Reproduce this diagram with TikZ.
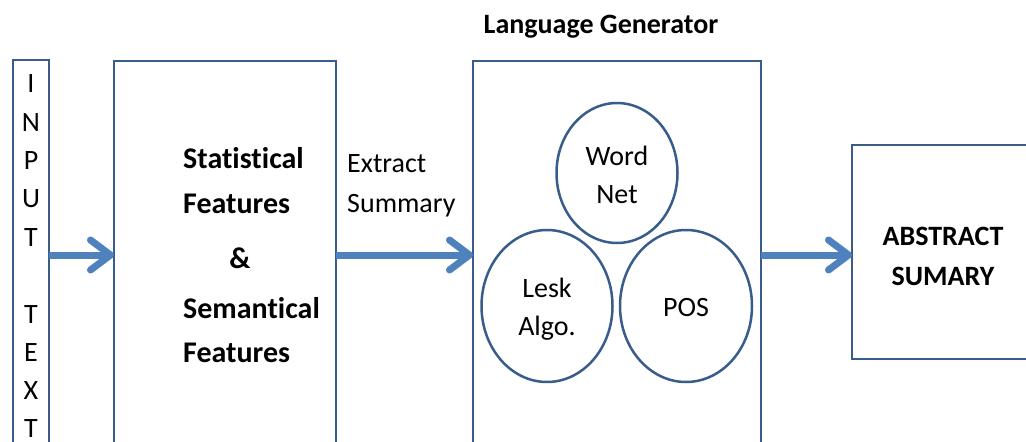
\documentclass[tikz,border=0pt]{standalone}
\usepackage{fontspec}
\setmainfont[Ligatures=NoCommon]{Carlito}
\usetikzlibrary{shapes.geometric,arrows.meta}
\definecolor{edge}{RGB}{56,93,138}
\definecolor{arrowblue}{RGB}{79,129,189}
\tikzset{
  box/.style={draw=edge, line width=2.8pt, rectangle, fill=none, inner sep=0pt, outer sep=0pt, anchor=north west},
  bubble/.style={draw=edge, line width=2.5pt, ellipse, inner sep=0pt, outer sep=0pt},
  flow/.style={draw=arrowblue, line width=7pt, -{Straight Barb[length=20pt,width=30pt,round]}},
  lbl/.style={anchor=base, inner sep=0pt, font=\fontsize{28}{34}\selectfont},
  blbl/.style={lbl, font=\fontsize{28}{34}\selectfont\bfseries},
  flbl/.style={anchor=base west, inner sep=0pt, font=\fontsize{30}{36}\selectfont\bfseries}
}
\begin{document}
\begin{tikzpicture}[x=1pt,y=-1pt]
\useasboundingbox (0,0) rectangle (1026,442);
\clip (0,0) rectangle (1026,442);
\fill[white] (0,0) rectangle (1026,442);

% boxes
\node[box, minimum width=36pt, minimum height=420pt] (inbox) at (13,60) {};
\node[box, minimum width=222pt, minimum height=420pt] (feat) at (114,61) {};
\node[box, minimum width=288pt, minimum height=420pt] (lang) at (473,61) {};
\node[box, minimum width=200pt, minimum height=214pt] (abs) at (852,145) {};

% circles
\node[bubble, minimum width=121pt, minimum height=140pt] (wn) at (617,173) {};
\node[bubble, minimum width=131pt, minimum height=152pt] (lesk) at (547,306) {};
\node[bubble, minimum width=132pt, minimum height=152pt] (pos) at (686,306) {};

% arrows
\coordinate (ay) at (0,255);
\draw[flow] (inbox.east |- ay) -- (feat.west |- ay);
\draw[flow] (feat.east |- ay) -- (lang.west |- ay);
\draw[flow] (lang.east |- ay) -- (abs.west |- ay);

% input text letters
\foreach \ch/\yy [count=\i] in {I/92,N/131,P/169,U/207,T/246,T/323,E/361,X/399,T/437}
  \node[lbl] (in\i) at (31,\yy) {\ch};

% feature text
\node[flbl] (stat) at (183,168.5) {Statistical};
\node[flbl] (feat1) at (183,213.5) {Features};
\node[lbl, font=\fontsize{30}{36}\selectfont\bfseries] (amp) at (240,268) {\&};
\node[flbl] (sem) at (183,318) {Semantical};
\node[flbl] (feat2) at (183,362) {Features};

% extract summary
\node[lbl, anchor=base west] (ext) at (347,172) {Extract};
\node[lbl, anchor=base west] (summ) at (347,212) {Summary};

% language generator
\node[blbl] (lgtitle) at (601,33) {Language Generator};
\node[lbl] (word) at (617,165) {Word};
\node[lbl] (net) at (617,203) {Net};
\node[lbl] (lesk1) at (547,297) {Lesk};
\node[lbl] (lesk2) at (547,335) {Algo.};
\node[lbl] (postxt) at (686,316) {POS};

% abstract summary
\node[blbl] (abs1) at (943,245) {ABSTRACT};
\node[blbl] (abs2) at (943,285) {SUMARY};
\end{tikzpicture}
\end{document}
